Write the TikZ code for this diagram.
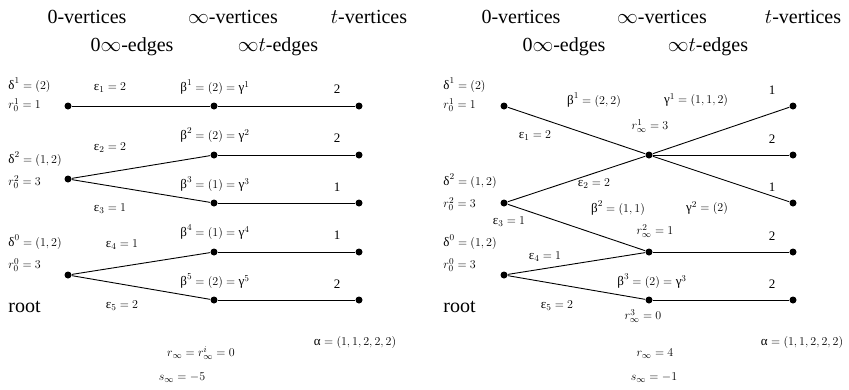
\documentclass[tikz,border=0pt]{standalone}
\usepackage{amsmath}
\usepackage{fontspec}
\setmainfont{Liberation Serif}
\newcommand{\gdel}{\text{δ}}
\newcommand{\geps}{\text{ε}}
\newcommand{\gbet}{\text{β}}
\newcommand{\ggam}{\text{γ}}
\newcommand{\galp}{\text{α}}

\begin{document}
\begin{tikzpicture}[x=1pt,y=-1pt,line width=0.9pt,
  vtx/.style={circle,fill=black,inner sep=0pt,minimum size=7pt},
  head/.style={font=\fontsize{20}{24}\selectfont,inner sep=0pt},
  lbl/.style={font=\fontsize{13}{15}\selectfont,inner sep=0pt}]
  \useasboundingbox (0,0) rectangle (849,389);
  % cabeceras
  \node[head] (h0L) at (87,17) {0-vertices};
  \node[head] (hiL) at (233,17) {$\infty$-vertices};
  \node[head] (htL) at (369,17) {$t$-vertices};
  \node[head] (e0L) at (132,47) {0$\infty$-edges};
  \node[head] (etL) at (278,47) {$\infty t$-edges};
  \node[head] (h0R) at (521,17) {0-vertices};
  \node[head] (hiR) at (662,17) {$\infty$-vertices};
  \node[head] (htR) at (803,17) {$t$-vertices};
  \node[head] (e0R) at (564,47) {0$\infty$-edges};
  \node[head] (etR) at (708,47) {$\infty t$-edges};
  % grafo izquierdo
  \node[vtx] (La1) at (68,106) {};
  \node[vtx] (La2) at (68,179) {};
  \node[vtx] (La0) at (68,275) {};
  \foreach \i/\y in {1/106,2/155,3/203,4/252,5/300} {
    \node[vtx] (Lb\i) at (214,\y) {};
    \node[vtx] (Lc\i) at (359,\y) {};
    \draw (Lb\i) -- (Lc\i);
  }
  \draw (La1) -- (Lb1);
  \draw (La2) -- (Lb2);
  \draw (La2) -- (Lb3);
  \draw (La0) -- (Lb4);
  \draw (La0) -- (Lb5);
  \node[lbl,anchor=west] at (8,85) {$\gdel^1=(2)$};
  \node[lbl,anchor=west] at (8,105) {$r_0^1=1$};
  \node[lbl,anchor=west] at (8,159) {$\gdel^2=(1,2)$};
  \node[lbl,anchor=west] at (8,182) {$r_0^2=3$};
  \node[lbl,anchor=west] at (8,242) {$\gdel^0=(1,2)$};
  \node[lbl,anchor=west] at (8,265) {$r_0^0=3$};
  \node[head,anchor=west] at (8,307) {root};
  \node[lbl] at (110,88) {$\geps_1=2$};
  \node[lbl] at (110,148) {$\geps_2=2$};
  \node[lbl] at (110,209) {$\geps_3=1$};
  \node[lbl] at (122,245) {$\geps_4=1$};
  \node[lbl] at (122,306) {$\geps_5=2$};
  \node[lbl] at (215,87) {$\gbet^1=(2)=\ggam^1$};
  \node[lbl] at (215,135) {$\gbet^2=(2)=\ggam^2$};
  \node[lbl] at (215,184) {$\gbet^3=(1)=\ggam^3$};
  \node[lbl] at (215,232) {$\gbet^4=(1)=\ggam^4$};
  \node[lbl] at (215,281) {$\gbet^5=(2)=\ggam^5$};
  \foreach \n/\y in {2/89,2/138,1/187,1/235,2/284}
    \node[lbl] at (337,\y) {\n};
  \node[lbl] at (355,342) {$\galp=(1,1,2,2,2)$};
  \node[lbl] at (201,353) {$r_\infty=r_\infty^i=0$};
  \node[lbl] at (182,378) {$s_\infty=-5$};
  % grafo derecho
  \node[vtx] (Ra1) at (504,106) {};
  \node[vtx] (Ra2) at (504,203) {};
  \node[vtx] (Ra0) at (504,275) {};
  \node[vtx] (Rb1) at (649,155) {};
  \node[vtx] (Rb2) at (649,252) {};
  \node[vtx] (Rb3) at (649,300) {};
  \foreach \i/\y in {1/106,2/155,3/203,4/252,5/300}
    \node[vtx] (Rc\i) at (793,\y) {};
  \draw (Ra1) -- (Rb1);
  \draw (Ra2) -- (Rb1);
  \draw (Ra2) -- (Rb2);
  \draw (Ra0) -- (Rb2);
  \draw (Ra0) -- (Rb3);
  \draw (Rb1) -- (Rc1);
  \draw (Rb1) -- (Rc2);
  \draw (Rb1) -- (Rc3);
  \draw (Rb2) -- (Rc4);
  \draw (Rb3) -- (Rc5);
  \node[lbl,anchor=west] at (443,85) {$\gdel^1=(2)$};
  \node[lbl,anchor=west] at (443,105) {$r_0^1=1$};
  \node[lbl,anchor=west] at (443,181) {$\gdel^2=(1,2)$};
  \node[lbl,anchor=west] at (443,204) {$r_0^2=3$};
  \node[lbl,anchor=west] at (443,242) {$\gdel^0=(1,2)$};
  \node[lbl,anchor=west] at (443,265) {$r_0^0=3$};
  \node[head,anchor=west] at (443,307) {root};
  \node[lbl] at (535,136) {$\geps_1=2$};
  \node[lbl] at (594,184) {$\geps_2=2$};
  \node[lbl] at (509,222) {$\geps_3=1$};
  \node[lbl] at (545,257) {$\geps_4=1$};
  \node[lbl] at (557,306) {$\geps_5=2$};
  \node[lbl] at (594,100) {$\gbet^1=(2,2)$};
  \node[lbl] at (696,100) {$\ggam^1=(1,1,2)$};
  \node[lbl] at (650,126) {$r_\infty^1=3$};
  \node[lbl] at (618,208) {$\gbet^2=(1,1)$};
  \node[lbl] at (707,208) {$\ggam^2=(2)$};
  \node[lbl] at (655,231) {$r_\infty^2=1$};
  \node[lbl] at (652,281) {$\gbet^3=(2)=\ggam^3$};
  \node[lbl] at (643,316) {$r_\infty^3=0$};
  \foreach \n/\y in {1/90,2/139,1/187,2/236,2/284}
    \node[lbl] at (772,\y) {\n};
  \node[lbl] at (802,342) {$\galp=(1,1,2,2,2)$};
  \node[lbl] at (655,354) {$r_\infty=4$};
  \node[lbl] at (654,378) {$s_\infty=-1$};
\end{tikzpicture}
\end{document}
